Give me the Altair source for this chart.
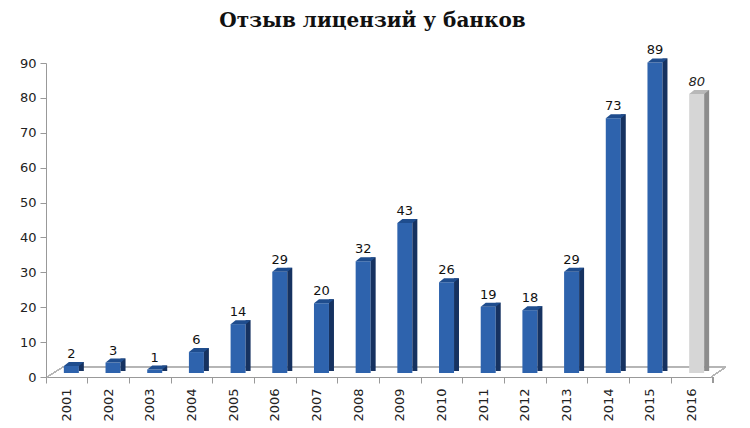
import altair as alt
import pandas as pd

years = [str(y) for y in range(2001, 2017)]
values = [2, 3, 1, 6, 14, 29, 20, 32, 43, 26, 19, 18, 29, 73, 89, 80]
title_text = "Отзыв лицензий у банков"

df = pd.DataFrame({"year": years, "value": values})

W, H = 667, 314
FONT = "DejaVu Sans"

is_last = alt.datum.year == "2016"

x_enc = alt.X("year:N", sort=years,
              scale=alt.Scale(paddingInner=0, paddingOuter=0),
              axis=alt.Axis(title=None, labelAngle=270, bandPosition=0,
                            labelFont=FONT, labelFontSize=13, labelColor="#222",
                            tickSize=6, tickColor="#999", domainColor="#999",
                            labelPadding=5, grid=False))
y_scale = alt.Scale(domain=[0, 90], nice=False)
y_enc = alt.Y("value:Q", scale=y_scale,
              axis=alt.Axis(title=None, values=list(range(0, 91, 10)),
                            labelFont=FONT, labelFontSize=13, labelColor="#222",
                            tickSize=6, tickColor="#999", domainColor="#999",
                            labelPadding=4, grid=False))

base = alt.Chart(df)

# floor (decoration)
floor_back = base.mark_rule(color="#b5b5b5", strokeWidth=1).encode(
    x=alt.value(17), x2=alt.value(W + 13), y=alt.value(H - 10))
floor_left = base.mark_rule(color="#b5b5b5", strokeWidth=1).encode(
    x=alt.value(1), x2=alt.value(17), y=alt.value(H), y2=alt.value(H - 10))
floor_right = base.mark_rule(color="#b5b5b5", strokeWidth=1).encode(
    x=alt.value(W - 2), x2=alt.value(W + 13), y=alt.value(H), y2=alt.value(H - 10))
end_tick = base.mark_rule(color="#999", strokeWidth=1).encode(
    x=alt.value(W), y=alt.value(H), y2=alt.value(H + 6))

front = base.mark_bar(width=15, xOffset=4.5, yOffset=-4, y2Offset=-4).encode(
    x=x_enc, y=y_enc, y2=alt.Y2(datum=0),
    color=alt.condition(is_last, alt.value("#d6d6d6"), alt.value("#2e63ad")))

side = base.mark_bar(width=5, xOffset=14.5, yOffset=-8, y2Offset=-6).encode(
    x=x_enc, y=y_enc, y2=alt.Y2(datum=0),
    color=alt.condition(is_last, alt.value("#8c8c8c"), alt.value("#163260")))

top_shape = "M-1,0.2 L0.5,0.2 L1,-0.2 L-0.5,-0.2 Z"
top = base.mark_point(shape=top_shape, size=400, filled=True, opacity=1,
                      strokeWidth=0, xOffset=7, yOffset=-6).encode(
    x=x_enc, y=y_enc,
    color=alt.condition(is_last, alt.value("#b8b8b8"), alt.value("#1f4d8e")))

labels = base.transform_filter(alt.datum.year != "2016").mark_text(
    font=FONT, fontSize=13, color="#111", baseline="alphabetic",
    xOffset=4.5, dy=-12).encode(x=x_enc, y=y_enc, text="value:Q")

labels_last = base.transform_filter(alt.datum.year == "2016").mark_text(
    font=FONT, fontSize=13, color="#222", fontStyle="italic", baseline="alphabetic",
    xOffset=4.5, dy=-12).encode(x=x_enc, y=y_enc, text="value:Q")

chart = alt.layer(floor_back, floor_left, floor_right, end_tick,
                  front, side, top, labels, labels_last).properties(
    width=W, height=H,
    background="white",
    title=alt.TitleParams(title_text, font="DejaVu Serif", fontSize=20,
                          fontWeight="bold", color="#111", offset=13, dx=-7),
    autosize=alt.AutoSizeParams(type="none"),
    padding={"left": 38, "top": 55, "right": 29, "bottom": 51},
).configure_view(stroke="transparent", strokeWidth=0)

chart.save("out.html", embed_options={"renderer": "svg", "actions": False})
